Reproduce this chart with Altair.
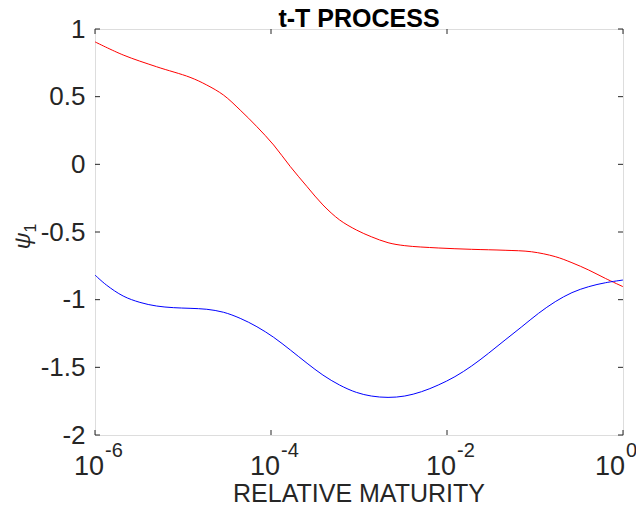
import altair as alt
import pandas as pd

# ---- data (x given as log10 exponent) ----
red_exp = [-6.0, -5.68, -5.30, -4.92, -4.73, -4.54, -4.35, -4.16, -3.97, -3.78, -3.59,
           -3.41, -3.22, -3.03, -2.86, -2.67, -2.48, -2.10, -1.72, -1.34, -1.04, -0.77,
           -0.58, -0.39, -0.20, 0.0]
red_val = [0.905, 0.808, 0.721, 0.643, 0.586, 0.512, 0.401, 0.278, 0.143, -0.017, -0.165,
           -0.300, -0.411, -0.485, -0.535, -0.579, -0.601, -0.618, -0.628, -0.635, -0.646,
           -0.682, -0.727, -0.781, -0.843, -0.904]

blue_exp = [-6.0, -5.87, -5.68, -5.49, -5.30, -5.11, -4.92, -4.73, -4.54, -4.35, -4.16,
            -3.97, -3.78, -3.59, -3.41, -3.22, -3.03, -2.86, -2.67, -2.48, -2.29, -2.10,
            -1.91, -1.72, -1.53, -1.34, -1.15, -0.96, -0.77, -0.58, -0.39, -0.20, 0.0]
blue_val = [-0.818, -0.892, -0.973, -1.020, -1.047, -1.059, -1.064, -1.071, -1.093, -1.138,
            -1.200, -1.278, -1.372, -1.470, -1.557, -1.631, -1.685, -1.712, -1.722, -1.712,
            -1.680, -1.631, -1.569, -1.490, -1.397, -1.298, -1.200, -1.101, -1.015, -0.948,
            -0.904, -0.875, -0.855]

x_tick_exp = [-6, -4, -2, 0]
x_tick_sup = ["-6", "-4", "-2", "0"]
y_ticks = [-2, -1.5, -1, -0.5, 0, 0.5, 1]

title_text = "t-T PROCESS"
x_title = "RELATIVE MATURITY"
y_title = "ψ"
y_title_sub = "1"

# ---- layout constants ----
W, H = 528, 406
FONT = "Liberation Sans"
AX = "#262626"

red_df = pd.DataFrame({"x": [10.0 ** e for e in red_exp], "y": red_val})
blue_df = pd.DataFrame({"x": [10.0 ** e for e in blue_exp], "y": blue_val})
xt_df = pd.DataFrame({"e": x_tick_exp, "x": [10.0 ** e for e in x_tick_exp],
                      "base": ["10"] * len(x_tick_exp), "sup": x_tick_sup})
yt_df = pd.DataFrame({"v": y_ticks})

xs = alt.Scale(type="log", domain=[1e-6, 1], nice=False)
ys = alt.Scale(domain=[-2, 1], nice=False, zero=False)

yaxis = alt.Axis(values=y_ticks, ticks=False, domain=False, grid=False,
                 labelFontSize=26, labelFont=FONT, labelColor=AX, labelPadding=10,
                 labelOverlap=False, labelFlush=False,
                 labelExpr="toString(datum.value)", title=None)

red = alt.Chart(red_df).mark_line(color="#FF0000", strokeWidth=1, interpolate="catmull-rom").encode(
    x=alt.X("x:Q", scale=xs, axis=None),
    y=alt.Y("y:Q", scale=ys, axis=yaxis),
)
blue = alt.Chart(blue_df).mark_line(color="#0000FF", strokeWidth=1, interpolate="catmull-rom").encode(
    x=alt.X("x:Q", scale=xs, axis=None),
    y=alt.Y("y:Q", scale=ys, axis=yaxis),
)

# inward ticks on all four sides
ytl = alt.Chart(yt_df).mark_rule(color=AX, strokeWidth=1).encode(
    y=alt.Y("v:Q", scale=ys, axis=yaxis), x=alt.value(0), x2=alt.value(5))
ytr = alt.Chart(yt_df).mark_rule(color=AX, strokeWidth=1).encode(
    y=alt.Y("v:Q", scale=ys, axis=yaxis), x=alt.value(W - 5), x2=alt.value(W))
xtb = alt.Chart(xt_df).mark_rule(color=AX, strokeWidth=1).encode(
    x=alt.X("x:Q", scale=xs, axis=None), y=alt.value(H - 5), y2=alt.value(H))
xtt = alt.Chart(xt_df).mark_rule(color=AX, strokeWidth=1).encode(
    x=alt.X("x:Q", scale=xs, axis=None), y=alt.value(0), y2=alt.value(5))


# x tick labels 10^n (the last one pulled in so it stays on the page)
def xlabels(flt, dx_base):
    b = alt.Chart(xt_df).transform_filter(flt).mark_text(
        align="right", baseline="alphabetic", dx=dx_base, fontSize=27, font=FONT, color=AX
    ).encode(x=alt.X("x:Q", scale=xs, axis=None), y=alt.value(446), text="base:N")
    s = alt.Chart(xt_df).transform_filter(flt).mark_text(
        align="left", baseline="alphabetic", dx=dx_base + 1, fontSize=20, font=FONT, color=AX
    ).encode(x=alt.X("x:Q", scale=xs, axis=None), y=alt.value(428), text="sup:N")
    return [b, s]


xl_layers = xlabels("datum.e < 0", 9) + xlabels("datum.e >= 0", 2)

txt_df = pd.DataFrame({"title": [title_text], "xt": [x_title], "yt": [y_title], "ys": [y_title_sub]})
t_title = alt.Chart(txt_df).mark_text(align="center", baseline="alphabetic", fontSize=25,
                                      fontWeight="bold", font=FONT, color="#000000").encode(
    x=alt.value(W / 2), y=alt.value(-2), text="title:N")
t_x = alt.Chart(txt_df).mark_text(align="center", baseline="alphabetic", fontSize=25,
                                  font=FONT, color=AX).encode(
    x=alt.value(W / 2), y=alt.value(473), text="xt:N")
t_y = alt.Chart(txt_df).mark_text(align="center", baseline="middle", fontSize=23, angle=270,
                                  fontStyle="italic", font=FONT, color=AX).encode(
    x=alt.value(-72), y=alt.value(212), text="yt:N")
t_ys = alt.Chart(txt_df).mark_text(align="center", baseline="middle", fontSize=16, angle=270,
                                   font=FONT, color=AX).encode(
    x=alt.value(-64), y=alt.value(199), text="ys:N")

chart = alt.layer(red, blue, ytl, ytr, xtb, xtt, *xl_layers, t_title, t_x, t_y, t_ys).properties(
    width=W, height=H,
    autosize=alt.AutoSizeParams(type="none"),
    padding={"left": 87, "top": 21, "right": 13, "bottom": 71},
).configure_view(stroke=AX, strokeWidth=1).configure(background="white")

chart.save("out.html", embed_options={"renderer": "svg", "actions": False})
